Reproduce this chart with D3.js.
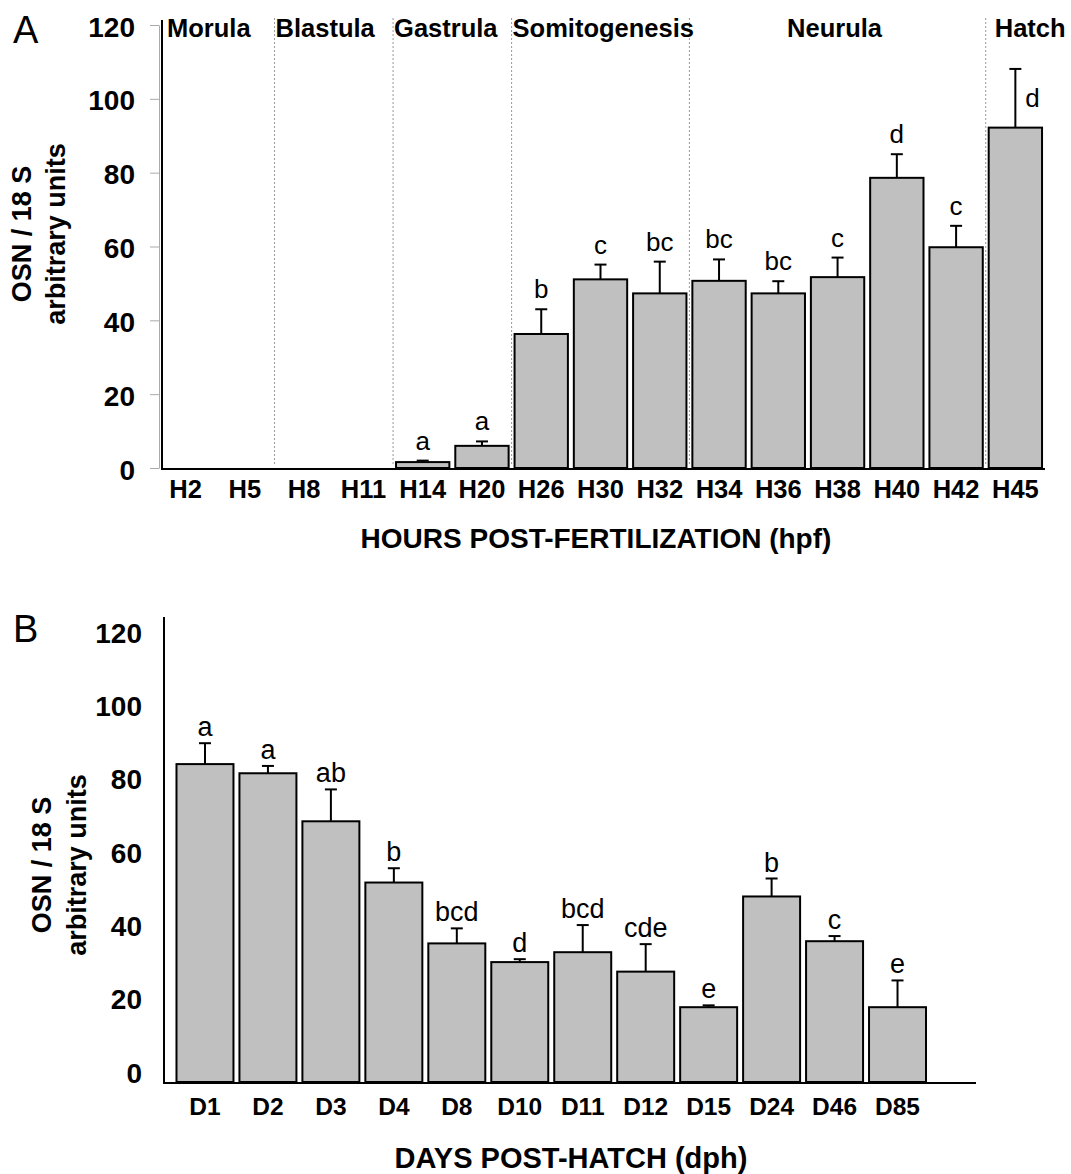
<!DOCTYPE html>
<html>
<head>
<meta charset="utf-8">
<script src="https://cdn.jsdelivr.net/npm/d3@7"></script>
<style>
  body { margin: 0; background: #fff; }
  svg { display: block; font-family: "Liberation Sans", Arial, sans-serif; }
</style>
</head>
<body>
<div id="chart"></div>
<script>
// Panel A: hours post-fertilization
const hpfCategories = ['H2', 'H5', 'H8', 'H11', 'H14', 'H20', 'H26', 'H30', 'H32', 'H34', 'H36', 'H38', 'H40', 'H42', 'H45'];
const hpfValues = [0, 0, 0, 0, 1.6, 6.0, 36.3, 51.1, 47.3, 50.7, 47.3, 51.7, 78.6, 59.8, 92.2];
const hpfErrors = [0, 0, 0, 0, 0.4, 1.2, 6.7, 4.0, 8.6, 5.8, 3.3, 5.3, 6.4, 5.8, 15.9];
const hpfLetters = ['', '', '', '', 'a', 'a', 'b', 'c', 'bc', 'bc', 'bc', 'c', 'd', 'c', 'd'];
const stageNames = ['Morula', 'Blastula', 'Gastrula', 'Somitogenesis', 'Neurula', 'Hatch'];
const stageStarts = ['H2', 'H8', 'H14', 'H26', 'H34', 'H45'];

// Panel B: days post-hatch
const dphCategories = ['D1', 'D2', 'D3', 'D4', 'D8', 'D10', 'D11', 'D12', 'D15', 'D24', 'D46', 'D85'];
const dphValues = [86.7, 84.2, 71.1, 54.4, 37.8, 32.7, 35.4, 30.1, 20.4, 50.6, 38.4, 20.4];
const dphErrors = [5.7, 2.0, 8.7, 3.9, 4.1, 0.8, 7.4, 7.5, 0.5, 4.9, 1.4, 7.3];
const dphLetters = ['a', 'a', 'ab', 'b', 'bcd', 'd', 'bcd', 'cde', 'e', 'b', 'c', 'e'];

const yTicks = [0, 20, 40, 60, 80, 100, 120];

const width = 1071;
const height = 1174;

const svg = d3.select('#chart')
  .append('svg')
  .attr('width', width)
  .attr('height', height);

svg.append('rect').attr('width', width).attr('height', height).attr('fill', '#fff');

function drawPanel(opts) {
  const g = svg.append('g');

  const x = d3.scaleBand()
    .domain(opts.categories)
    .range(opts.xRange)
    .paddingInner(opts.padInner)
    .paddingOuter(opts.padInner / 2);

  const y = d3.scaleLinear().domain([0, 120]).range(opts.yRange);

  const rows = opts.categories.map((c, i) => ({
    cat: c, value: opts.values[i], err: opts.errors[i], letter: opts.letters[i]
  }));

  // y axis (gray ticks in A, none in B)
  const yAxis = d3.axisLeft(y)
    .tickValues(yTicks)
    .tickSize(opts.tickSize)
    .tickPadding(opts.tickPadding)
    .tickSizeOuter(0);

  const ya = g.append('g')
    .attr('transform', `translate(${opts.axisX},0)`)
    .call(yAxis);
  ya.select('.domain').attr('stroke', opts.tickSize > 0 ? '#aaa' : 'none');
  ya.selectAll('.tick line').attr('stroke', '#aaa');
  ya.selectAll('.tick text')
    .attr('font-size', 28)
    .attr('font-weight', 'bold')
    .attr('font-family', '"Liberation Sans", Arial, sans-serif')
    .attr('fill', '#000')
    .attr('dy', '0.36em')
    .attr('y', opts.labelShift);

  // black axis line
  g.append('line')
    .attr('x1', opts.blackX).attr('x2', opts.blackX)
    .attr('y1', opts.axisTop).attr('y2', y(0) + 2)
    .attr('stroke', '#000').attr('stroke-width', 2);

  // stage dividers
  if (opts.stages) {
    const half = x.step() * x.paddingInner() / 2;
    const bounds = opts.stages.starts.map(s => x(s) - half);
    bounds.slice(1).forEach(bx => {
      g.append('line')
        .attr('x1', bx).attr('x2', bx)
        .attr('y1', 18).attr('y2', y(0) - 4)
        .attr('stroke', '#999')
        .attr('stroke-width', 1)
        .attr('stroke-dasharray', '2,2');
    });
    opts.stages.names.forEach((name, i) => {
      const left = bounds[i];
      const right = i + 1 < bounds.length ? bounds[i + 1] : opts.xRange[1];
      const t = g.append('text')
        .attr('y', 37)
        .attr('font-size', 25.5)
        .attr('font-weight', 'bold')
        .text(name);
      if (name === 'Neurula') {
        t.attr('x', (left + right) / 2 - 3).attr('text-anchor', 'middle');
      } else if (name === 'Hatch') {
        t.attr('x', left + 9);
      } else if (i === 0) {
        t.attr('x', opts.blackX + 5);
      } else {
        t.attr('x', left + 1);
      }
    });
  }

  // bars
  const bars = rows.filter(d => d.value > 0);
  g.selectAll('.bar')
    .data(bars)
    .join('rect')
    .attr('class', 'bar')
    .attr('x', d => x(d.cat))
    .attr('y', d => y(d.value))
    .attr('width', x.bandwidth())
    .attr('height', d => y(0) - y(d.value))
    .attr('fill', '#c0c0c0')
    .attr('stroke', '#000')
    .attr('stroke-width', 2);

  // error bars
  const cap = 6;
  bars.forEach(d => {
    const cx = x(d.cat) + x.bandwidth() / 2;
    const top = y(d.value + d.err);
    g.append('line')
      .attr('x1', cx).attr('x2', cx)
      .attr('y1', y(d.value)).attr('y2', top)
      .attr('stroke', '#000').attr('stroke-width', 2);
    g.append('line')
      .attr('x1', cx - cap).attr('x2', cx + cap)
      .attr('y1', top).attr('y2', top)
      .attr('stroke', '#000').attr('stroke-width', 2);

    // significance letters; move beside the bar if it would hit the stage labels
    const ly = top - opts.letterGap;
    const lbl = g.append('text')
      .attr('font-size', opts.letterSize)
      .attr('text-anchor', 'middle')
      .text(d.letter);
    if (ly - 20 < 45 && opts.stages) {
      lbl.attr('x', cx + 17).attr('y', (top + y(d.value)) / 2 + 9);
    } else {
      lbl.attr('x', cx).attr('y', ly);
    }
  });

  // baseline
  g.append('line')
    .attr('x1', opts.blackX - 1).attr('x2', opts.baseEnd)
    .attr('y1', y(0) + 1).attr('y2', y(0) + 1)
    .attr('stroke', '#000').attr('stroke-width', 2);

  // category labels
  g.selectAll('.xlab')
    .data(opts.categories)
    .join('text')
    .attr('class', 'xlab')
    .attr('x', d => x(d) + x.bandwidth() / 2)
    .attr('y', opts.xLabelY)
    .attr('text-anchor', 'middle')
    .attr('font-size', opts.xLabelSize)
    .attr('font-weight', 'bold')
    .text(d => d);

  // x title
  g.append('text')
    .attr('x', opts.xTitleX).attr('y', opts.xTitleY)
    .attr('text-anchor', 'middle')
    .attr('font-size', opts.xTitleSize)
    .attr('font-weight', 'bold')
    .text(opts.xTitle);

  // y title (two lines)
  opts.yTitle.forEach((line, i) => {
    g.append('text')
      .attr('transform', `translate(${opts.yTitleX[i]},${opts.yTitleY}) rotate(-90)`)
      .attr('text-anchor', 'middle')
      .attr('dy', '0.35em')
      .attr('font-size', 27)
      .attr('font-weight', 'bold')
      .text(line);
  });

  // panel letter
  g.append('text')
    .attr('x', 13).attr('y', opts.panelY)
    .attr('font-size', 38)
    .text(opts.panel);
}

drawPanel({
  panel: 'A', panelY: 43,
  categories: hpfCategories, values: hpfValues, errors: hpfErrors, letters: hpfLetters,
  stages: { names: stageNames, starts: stageStarts },
  xRange: [156, 1045], padInner: 0.1,
  yRange: [468, 25],
  axisX: 159, tickSize: 9, tickPadding: 15, labelShift: 1,
  blackX: 162, axisTop: 20, baseEnd: 1045,
  letterGap: 11, letterSize: 26,
  xLabelY: 498, xLabelSize: 25.5,
  xTitle: 'HOURS POST-FERTILIZATION (hpf)', xTitleX: 596, xTitleY: 548, xTitleSize: 28,
  yTitle: ['OSN / 18 S', 'arbitrary units'], yTitleX: [22, 56], yTitleY: 234
});

drawPanel({
  panel: 'B', panelY: 642,
  categories: dphCategories, values: dphValues, errors: dphErrors, letters: dphLetters,
  stages: null,
  xRange: [173.5, 929], padInner: 0.095,
  yRange: [1082, 642],
  axisX: 164, tickSize: 0, tickPadding: 22, labelShift: -10,
  blackX: 164, axisTop: 617, baseEnd: 976,
  letterGap: 7, letterSize: 27,
  xLabelY: 1115, xLabelSize: 24.5,
  xTitle: 'DAYS POST-HATCH (dph)', xTitleX: 571, xTitleY: 1168, xTitleSize: 29,
  yTitle: ['OSN / 18 S', 'arbitrary units'], yTitleX: [42, 77], yTitleY: 865
});
</script>
</body>
</html>
